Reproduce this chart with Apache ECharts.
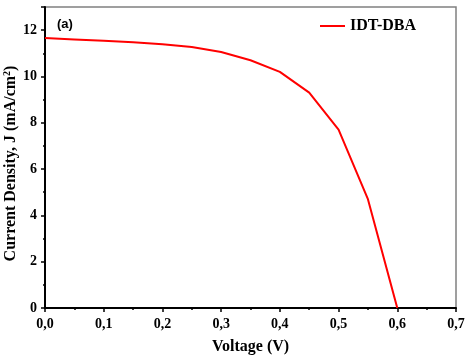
<!DOCTYPE html>
<html><head><meta charset="utf-8">
<script src="https://cdn.jsdelivr.net/npm/echarts@6/dist/echarts.min.js"></script>
<style>html,body{margin:0;padding:0;background:#fff}#c{width:467px;height:355px}</style>
</head><body><div id="c"></div>
<script>
const voltage = [0, 0.05, 0.1, 0.15, 0.2, 0.25, 0.3, 0.35, 0.4, 0.45, 0.5, 0.55, 0.6];
const currentDensity = [11.66, 11.6, 11.54, 11.48, 11.39, 11.27, 11.06, 10.7, 10.2, 9.3, 7.7, 4.7, 0];
const seriesName = 'IDT-DBA';
const xTickLabels = ['0,0','0,1','0,2','0,3','0,4','0,5','0,6','0,7'];

const chart = echarts.init(document.getElementById('c'));
const serif = 'Liberation Serif';
chart.setOption({
  animation: false,
  grid: {left: 45, right: 11, top: 7, bottom: 47, show: true, borderColor: '#808080', borderWidth: 1.5,
    backgroundColor: 'transparent', containLabel: false, outerBoundsMode: 'none'},
  legend: {
    data: [seriesName], left: 320, top: 18, padding: 0, itemWidth: 25, itemHeight: 2, itemGap: 4,
    icon: 'rect',
    textStyle: {fontFamily: serif, fontWeight: 'bold', fontSize: 16, color: '#000', padding: [0,0,0,0]}
  },
  graphic: [{type: 'text', left: 57, top: 18, style: {text: '(a)', font: 'bold 13px "Liberation Sans"', fill: '#000'}}],
  xAxis: {
    type: 'value', min: 0, max: 0.7, interval: 0.1,
    name: 'Voltage (V)', nameLocation: 'middle', nameGap: 31, nameMoveOverlap: false,
    nameTextStyle: {fontFamily: serif, fontWeight: 'bold', fontSize: 16, color: '#000'},
    axisLine: {show: true, onZero: false, lineStyle: {color: '#000', width: 2}},
    axisTick: {show: true, inside: false, length: 4, lineStyle: {color: '#000', width: 1.5}},
    minorTick: {show: true, splitNumber: 2, length: 2, lineStyle: {color: '#000', width: 1.5}},
    splitLine: {show: false},
    axisLabel: {fontFamily: serif, fontWeight: 'bold', fontSize: 14, color: '#000', margin: 9,
      formatter: v => xTickLabels[Math.round(v * 10)]}
  },
  yAxis: {
    type: 'value', min: 0, max: 13, interval: 2,
    name: 'Current Density, J (mA/cm{sup|2})', nameLocation: 'middle', nameGap: 26, nameMoveOverlap: false,
    nameTextStyle: {fontFamily: serif, fontWeight: 'bold', fontSize: 16, color: '#000', padding: [0, 12, 0, 0],
      rich: {sup: {fontFamily: serif, fontWeight: 'bold', fontSize: 10, verticalAlign: 'top', color: '#000', padding: [0,0,7,0]}}},
    axisLine: {show: true, lineStyle: {color: '#000', width: 2}},
    axisTick: {show: true, inside: false, length: 4, lineStyle: {color: '#000', width: 1.5}},
    minorTick: {show: true, splitNumber: 2, length: 2, lineStyle: {color: '#000', width: 1.5}},
    splitLine: {show: false},
    axisLabel: {fontFamily: serif, fontWeight: 'bold', fontSize: 14, color: '#000', margin: 8,
      showMaxLabel: false}
  },
  series: [{
    name: seriesName, type: 'line', showSymbol: false, symbol: 'none',
    data: voltage.map((v, i) => [v, currentDensity[i]]),
    lineStyle: {color: '#ff0000', width: 2}, itemStyle: {color: '#ff0000'}
  }]
});
</script></body></html>
